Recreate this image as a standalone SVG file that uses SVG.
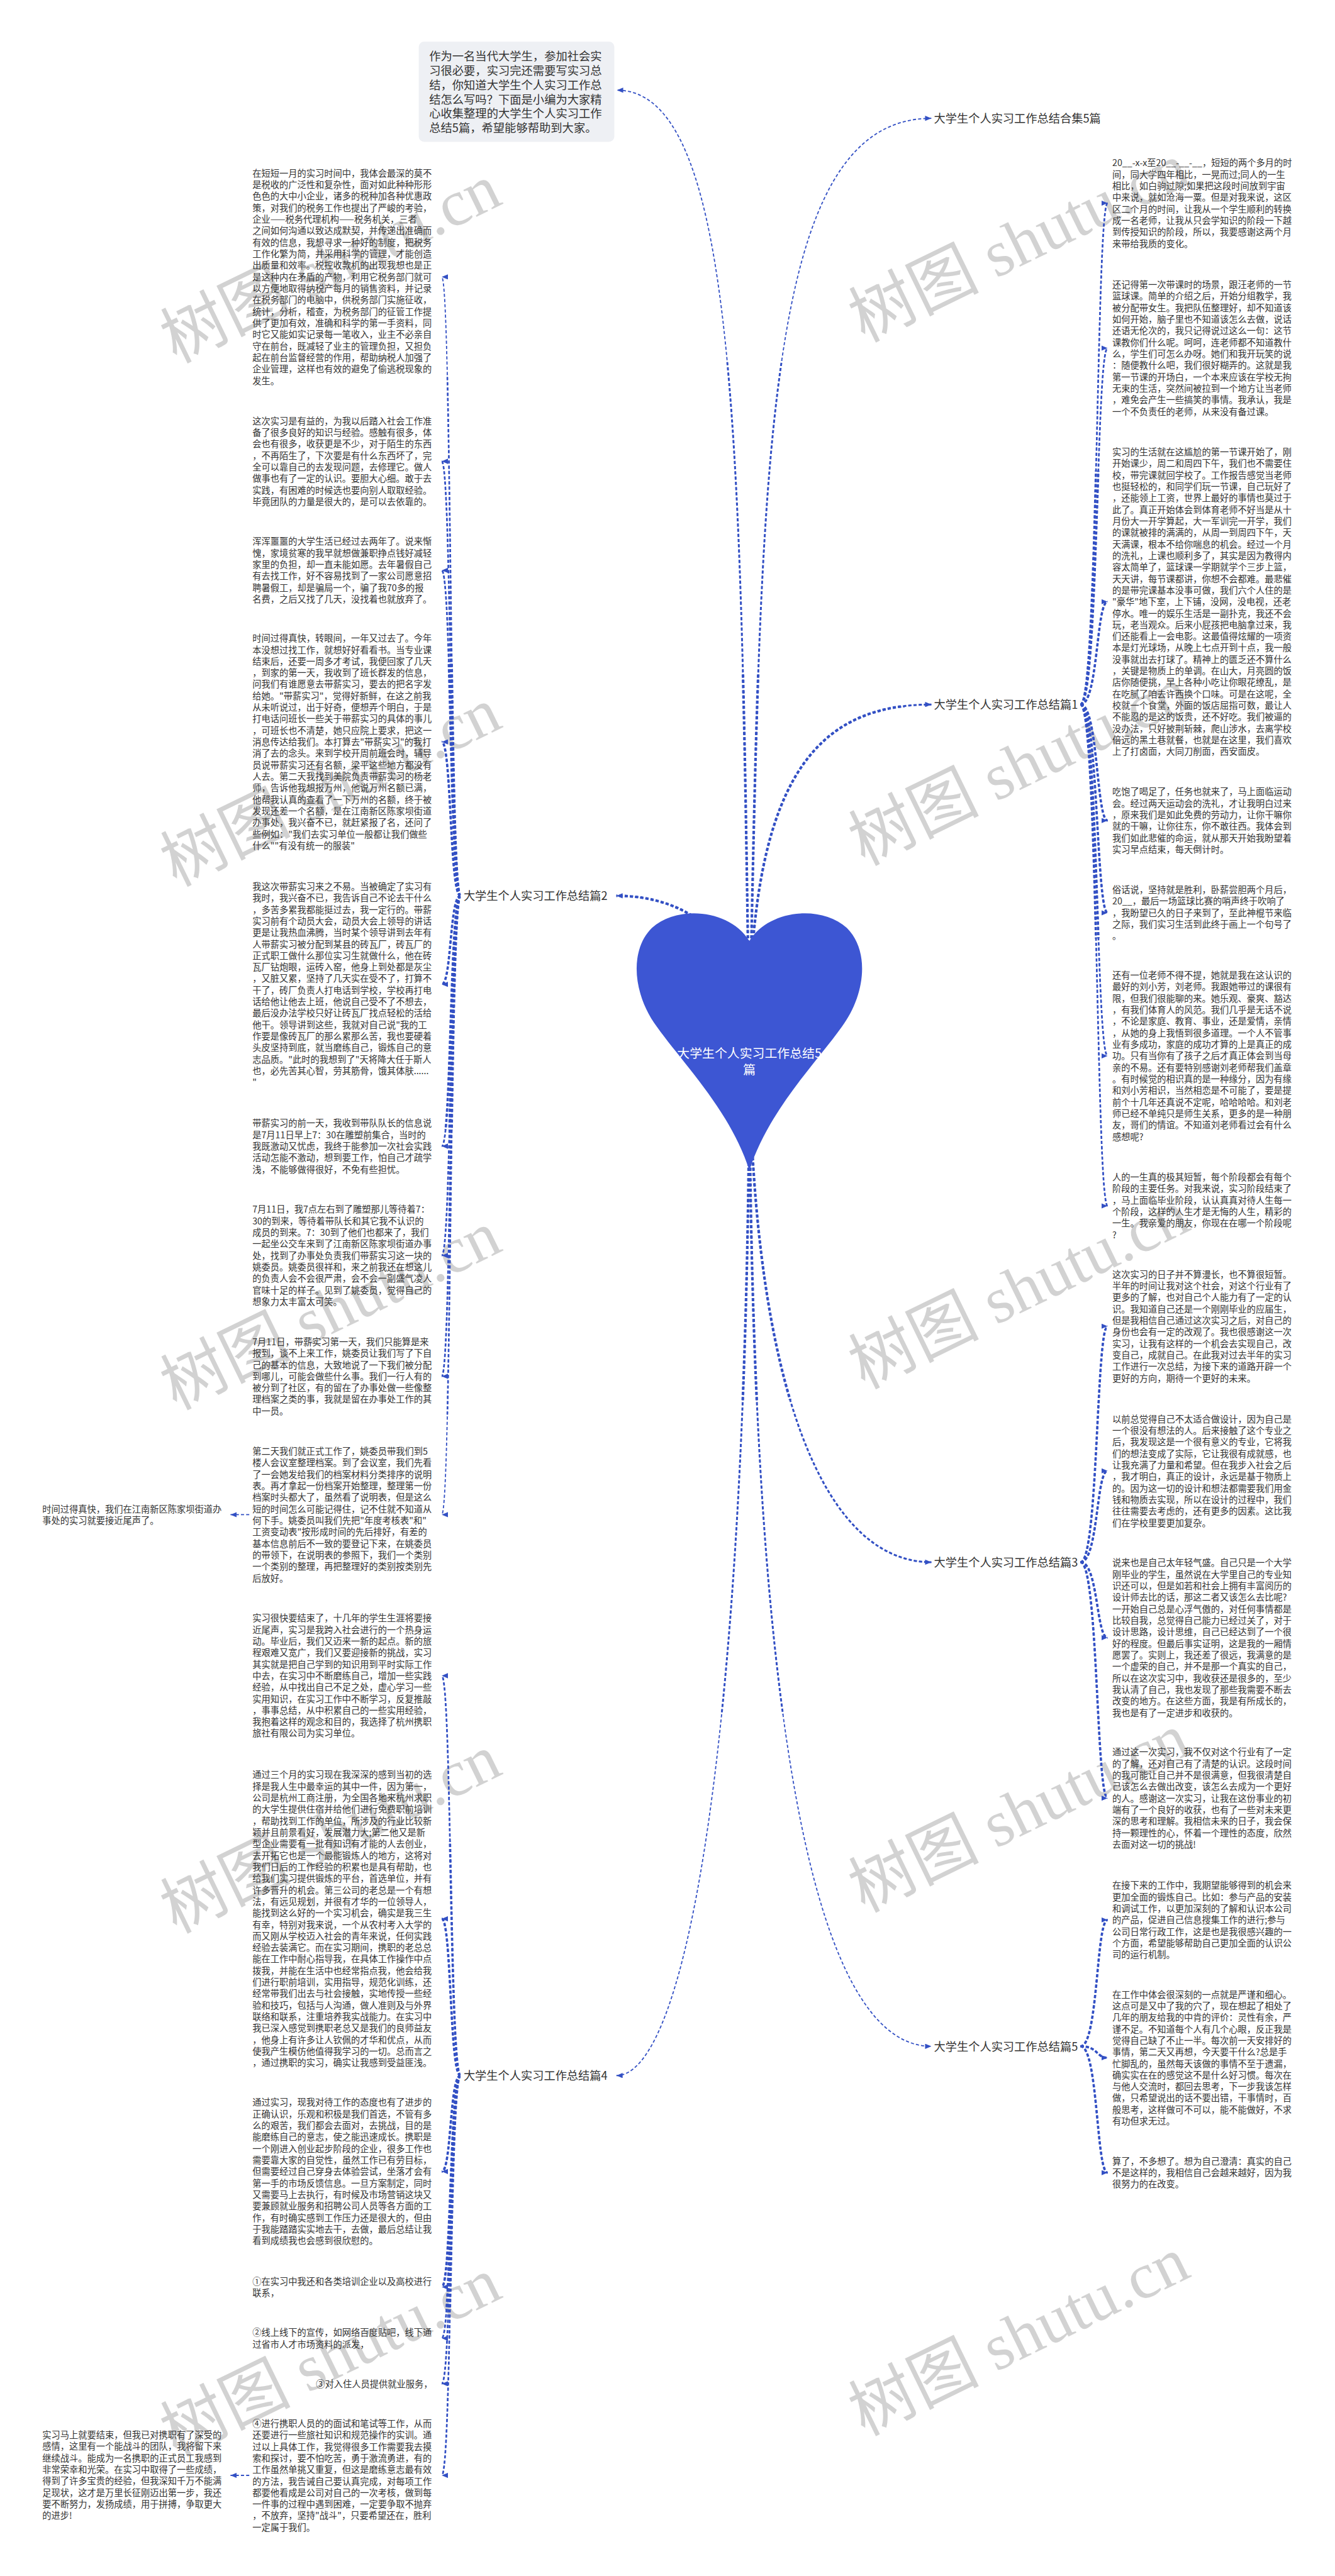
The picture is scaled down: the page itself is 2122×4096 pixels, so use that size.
<svg xmlns="http://www.w3.org/2000/svg" width="2122" height="4096" viewBox="0 0 2122 4096">
<style>
.t{font-family:"Noto Sans CJK SC","Noto Sans",sans-serif;font-size:17.2px;fill:#333}
.n{font-family:"Noto Sans CJK SC","Noto Sans",sans-serif;font-size:22.1px;fill:#333}
.b{font-family:"Noto Sans CJK SC","Noto Sans",sans-serif;font-size:22px;fill:#333}
.h{font-family:"Noto Sans CJK SC","Noto Sans",sans-serif;font-size:24px;fill:#fff;text-anchor:middle}
.wm{font-family:"Liberation Serif","Noto Sans CJK SC",serif;font-size:125px;fill:#d2d2d2;text-anchor:middle}
</style>
<defs>
<marker id="ah" viewBox="0 0 12 10" refX="12" refY="5" markerWidth="12" markerHeight="10" orient="auto" markerUnits="userSpaceOnUse"><path d="M0,0 L12,5 L0,10 z" fill="#3350c4"/></marker>
<clipPath id="cm1" clipPathUnits="userSpaceOnUse"><circle cx="1437" cy="1990" r="1300"/></clipPath>
<clipPath id="cm2" clipPathUnits="userSpaceOnUse"><circle cx="1437" cy="1990" r="700"/></clipPath>
<clipPath id="ck1" clipPathUnits="userSpaceOnUse"><circle cx="883" cy="1718.4" r="1000"/><circle cx="883" cy="3981.5" r="1000"/><circle cx="2072" cy="1351.5" r="1000"/><circle cx="2072" cy="2996.7" r="1000"/><circle cx="2072" cy="3925.4" r="1000"/></clipPath>
<clipPath id="ck2" clipPathUnits="userSpaceOnUse"><circle cx="883" cy="1718.4" r="450"/><circle cx="883" cy="3981.5" r="450"/><circle cx="2072" cy="1351.5" r="450"/><circle cx="2072" cy="2996.7" r="450"/><circle cx="2072" cy="3925.4" r="450"/></clipPath>
<path id="m1" d="M1437,1990 C1420,900 1420,173 1183,173"/>
<path id="m2" d="M1437,1990 C1460,900 1460,227 1786,227"/>
<path id="m3" d="M1437,1990 C1437,1500 1560,1351.5 1786,1351.5"/>
<path id="m4" d="M1437,1990 C1437,2600 1560,2996.7 1786,2996.7"/>
<path id="m5" d="M1437,1990 C1437,3300 1560,3925.4 1786,3925.4"/>
<path id="m6" d="M1437,1990 C1437,1800 1320,1718.4 1182,1718.4"/>
<path id="m7" d="M1437,1990 C1437,3300 1320,3981.5 1182,3981.5"/>
<path id="a1" d="M883,1718.4 C862,1718.4 866,531.2 847,531.2"/>
<path id="a2" d="M883,1718.4 C862,1718.4 866,884.9 847,884.9"/>
<path id="a3" d="M883,1718.4 C862,1718.4 866,1094.1 847,1094.1"/>
<path id="a4" d="M883,1718.4 C862,1718.4 866,1423.2 847,1423.2"/>
<path id="a5" d="M883,1718.4 C862,1718.4 866,1888.3 847,1888.3"/>
<path id="a6" d="M883,1718.4 C862,1718.4 866,2198.7 847,2198.7"/>
<path id="a7" d="M883,1718.4 C862,1718.4 866,2408.4 847,2408.4"/>
<path id="a8" d="M883,1718.4 C862,1718.4 866,2640.2 847,2640.2"/>
<path id="a9" d="M883,1718.4 C862,1718.4 866,2905.6 847,2905.6"/>
<path id="b1" d="M883,3981.5 C862,3981.5 866,3214.5 847,3214.5"/>
<path id="b2" d="M883,3981.5 C862,3981.5 866,3680.8 847,3680.8"/>
<path id="b3" d="M883,3981.5 C862,3981.5 866,4165.6 847,4165.6"/>
<path id="b4" d="M883,3981.5 C862,3981.5 866,4387 847,4387"/>
<path id="b5" d="M883,3981.5 C862,3981.5 866,4485.5 847,4485.5"/>
<path id="b6" d="M883,3981.5 C862,3981.5 866,4572.7 847,4572.7"/>
<path id="b7" d="M883,3981.5 C862,3981.5 866,4748.5 847,4748.5"/>
<path id="g1" d="M478,2905.6 L442,2905.6"/>
<path id="g2" d="M478,4748.5 L442,4748.5"/>
<path id="r1" d="M2072,1351.5 C2106,1351.5 2102,389.8 2124,389.8"/>
<path id="r2" d="M2072,1351.5 C2106,1351.5 2102,667.8 2124,667.8"/>
<path id="r3" d="M2072,1351.5 C2106,1351.5 2102,1154.3 2124,1154.3"/>
<path id="r4" d="M2072,1351.5 C2106,1351.5 2102,1574 2124,1574"/>
<path id="r5" d="M2072,1351.5 C2106,1351.5 2102,1751 2124,1751"/>
<path id="r6" d="M2072,1351.5 C2106,1351.5 2102,2025.5 2124,2025.5"/>
<path id="r7" d="M2072,1351.5 C2106,1351.5 2102,2313.2 2124,2313.2"/>
<path id="s1" d="M2072,2996.7 C2106,2996.7 2102,2544 2124,2544"/>
<path id="s2" d="M2072,2996.7 C2106,2996.7 2102,2821.5 2124,2821.5"/>
<path id="s3" d="M2072,2996.7 C2106,2996.7 2102,3141.6 2124,3141.6"/>
<path id="s4" d="M2072,2996.7 C2106,2996.7 2102,3449.4 2124,3449.4"/>
<path id="u1" d="M2072,3925.4 C2106,3925.4 2102,3683 2124,3683"/>
<path id="u2" d="M2072,3925.4 C2106,3925.4 2102,3947.4 2124,3947.4"/>
<path id="u3" d="M2072,3925.4 C2106,3925.4 2102,4167.8 2124,4167.8"/>
</defs>
<g transform="scale(0.8289)">
<g id="watermarks">
<text class="wm" transform="translate(633,504) rotate(-26)" y="44">树图 shutu.cn</text>
<text class="wm" transform="translate(633,1508) rotate(-26)" y="44">树图 shutu.cn</text>
<text class="wm" transform="translate(633,2512) rotate(-26)" y="44">树图 shutu.cn</text>
<text class="wm" transform="translate(633,3516) rotate(-26)" y="44">树图 shutu.cn</text>
<text class="wm" transform="translate(633,4520) rotate(-26)" y="44">树图 shutu.cn</text>
<text class="wm" transform="translate(1953,464) rotate(-26)" y="44">树图 shutu.cn</text>
<text class="wm" transform="translate(1953,1468) rotate(-26)" y="44">树图 shutu.cn</text>
<text class="wm" transform="translate(1953,2472) rotate(-26)" y="44">树图 shutu.cn</text>
<text class="wm" transform="translate(1953,3476) rotate(-26)" y="44">树图 shutu.cn</text>
<text class="wm" transform="translate(1953,4480) rotate(-26)" y="44">树图 shutu.cn</text>
</g>
<g id="connectors" fill="none" stroke="#3350c4" stroke-dasharray="6 4">
<g stroke-width="2.2" marker-end="url(#ah)">
<use href="#m1"/><use href="#m2"/><use href="#m3"/><use href="#m4"/><use href="#m5"/><use href="#m6"/><use href="#m7"/>
<use href="#a1"/><use href="#a2"/><use href="#a3"/><use href="#a4"/><use href="#a5"/><use href="#a6"/><use href="#a7"/><use href="#a8"/><use href="#a9"/>
<use href="#b1"/><use href="#b2"/><use href="#b3"/><use href="#b4"/><use href="#b5"/><use href="#b6"/><use href="#b7"/>
<use href="#g1"/><use href="#g2"/>
<use href="#r1"/><use href="#r2"/><use href="#r3"/><use href="#r4"/><use href="#r5"/><use href="#r6"/><use href="#r7"/>
<use href="#s1"/><use href="#s2"/><use href="#s3"/><use href="#s4"/>
<use href="#u1"/><use href="#u2"/><use href="#u3"/>
</g>
<g stroke-width="3.6" clip-path="url(#cm1)">
<use href="#m1"/><use href="#m2"/><use href="#m3"/><use href="#m4"/><use href="#m5"/><use href="#m6"/><use href="#m7"/>
</g>
<g stroke-width="5" clip-path="url(#cm2)">
<use href="#m1"/><use href="#m2"/><use href="#m3"/><use href="#m4"/><use href="#m5"/><use href="#m6"/><use href="#m7"/>
</g>
<g stroke-width="3.2" clip-path="url(#ck1)">
<use href="#a1"/><use href="#a2"/><use href="#a3"/><use href="#a4"/><use href="#a5"/><use href="#a6"/><use href="#a7"/><use href="#a8"/><use href="#a9"/>
<use href="#b1"/><use href="#b2"/><use href="#b3"/><use href="#b4"/><use href="#b5"/><use href="#b6"/><use href="#b7"/>
<use href="#r1"/><use href="#r2"/><use href="#r3"/><use href="#r4"/><use href="#r5"/><use href="#r6"/><use href="#r7"/>
<use href="#s1"/><use href="#s2"/><use href="#s3"/><use href="#s4"/>
<use href="#u1"/><use href="#u2"/><use href="#u3"/>
</g>
<g stroke-width="4.4" clip-path="url(#ck2)">
<use href="#a1"/><use href="#a2"/><use href="#a3"/><use href="#a4"/><use href="#a5"/><use href="#a6"/><use href="#a7"/><use href="#a8"/><use href="#a9"/>
<use href="#b1"/><use href="#b2"/><use href="#b3"/><use href="#b4"/><use href="#b5"/><use href="#b6"/><use href="#b7"/>
<use href="#r1"/><use href="#r2"/><use href="#r3"/><use href="#r4"/><use href="#r5"/><use href="#r6"/><use href="#r7"/>
<use href="#s1"/><use href="#s2"/><use href="#s3"/><use href="#s4"/>
<use href="#u1"/><use href="#u2"/><use href="#u3"/>
</g>
</g>
<g id="center">
<path d="M1437,1805 C1400,1745 1300,1735 1250,1780 C1205,1825 1215,1910 1260,1970 C1310,2040 1400,2130 1437,2245 C1474,2130 1564,2040 1614,1970 C1659,1910 1669,1825 1624,1780 C1574,1735 1474,1745 1437,1805 Z" fill="#3d56d3"/>
<text class="h" x="1437" y="2029">大学生个人实习工作总结5<tspan x="1437" dy="32">篇</tspan></text>
</g>
<g id="intro">
<rect x="803" y="80" width="375" height="192" rx="10" fill="#eef0f4"/>
<text class="n" x="823" y="115.4"><tspan x="823">作为一名当代大学生，参加社会实</tspan><tspan x="823" dy="27.7">习很必要，实习完还需要写实习总</tspan><tspan x="823" dy="27.7">结，你知道大学生个人实习工作总</tspan><tspan x="823" dy="27.7">结怎么写吗？下面是小编为大家精</tspan><tspan x="823" dy="27.7">心收集整理的大学生个人实习工作</tspan><tspan x="823" dy="27.7">总结5篇，希望能够帮助到大家。</tspan></text>
</g>
<g id="branch-heji"><text class="b" x="1791" y="235.4">大学生个人实习工作总结合集5篇</text></g>
<g id="branch-1"><text class="b" x="1791" y="1359.9">大学生个人实习工作总结篇1</text></g>
<g id="branch-2"><text class="b" x="889" y="1726.8">大学生个人实习工作总结篇2</text></g>
<g id="branch-3"><text class="b" x="1791" y="3005.1">大学生个人实习工作总结篇3</text></g>
<g id="branch-4"><text class="b" x="889" y="3989.9">大学生个人实习工作总结篇4</text></g>
<g id="branch-5"><text class="b" x="1791" y="3933.8">大学生个人实习工作总结篇5</text></g>

<g id="L1"><text class="t" x="484" y="338.8"><tspan x="484">在短短一月的实习时间中，我体会最深的莫不</tspan><tspan x="484" dy="22.1">是税收的广泛性和复杂性，面对如此种种形形</tspan><tspan x="484" dy="22.1">色色的大中小企业，诸多的税种加各种优惠政</tspan><tspan x="484" dy="22.1">策，对我们的税务工作也提出了严峻的考验，</tspan><tspan x="484" dy="22.1">企业——税务代理机构——税务机关，三者</tspan><tspan x="484" dy="22.1">之间如何沟通以致达成默契，并传递出准确而</tspan><tspan x="484" dy="22.1">有效的信息，我想寻求一种好的制度，把税务</tspan><tspan x="484" dy="22.1">工作化繁为简，并采用科学的管理，才能创造</tspan><tspan x="484" dy="22.1">出质量和效率。税控收款机的出现我想也是正</tspan><tspan x="484" dy="22.1">是这种内在矛盾的产物，利用它税务部门就可</tspan><tspan x="484" dy="22.1">以方便地取得纳税产每月的销售资料，并记录</tspan><tspan x="484" dy="22.1">在税务部门的电脑中，供税务部门实施征收，</tspan><tspan x="484" dy="22.1">统计，分析，稽查，为税务部门的征管工作提</tspan><tspan x="484" dy="22.1">供了更加有效，准确和科学的第一手资料，同</tspan><tspan x="484" dy="22.1">时它又能如实记录每一笔收入，业主不必亲自</tspan><tspan x="484" dy="22.1">守在前台，既减轻了业主的管理负担，又担负</tspan><tspan x="484" dy="22.1">起在前台监督经营的作用，帮助纳税人加强了</tspan><tspan x="484" dy="22.1">企业管理，这样也有效的避免了偷逃税现象的</tspan><tspan x="484" dy="22.1">发生。</tspan></text></g>
<g id="L2"><text class="t" x="484" y="814"><tspan x="484">这次实习是有益的，为我以后踏入社会工作准</tspan><tspan x="484" dy="22.1">备了很多良好的知识与经验。感触有很多，体</tspan><tspan x="484" dy="22.1">会也有很多，收获更是不少，对于陌生的东西</tspan><tspan x="484" dy="22.1">，不再陌生了，下次要是有什么东西坏了，完</tspan><tspan x="484" dy="22.1">全可以靠自己的去发现问题，去修理它。做人</tspan><tspan x="484" dy="22.1">做事也有了一定的认识。要胆大心细。敢于去</tspan><tspan x="484" dy="22.1">实践，有困难的时候选也要向别人取取经验。</tspan><tspan x="484" dy="22.1">毕竟团队的力量是很大的，是可以去依靠的。</tspan></text></g>
<g id="L3"><text class="t" x="484" y="1045.3"><tspan x="484">浑浑噩噩的大学生活已经过去两年了。说来惭</tspan><tspan x="484" dy="22.1">愧，家境贫寒的我早就想做兼职挣点钱好减轻</tspan><tspan x="484" dy="22.1">家里的负担，却一直未能如愿。去年暑假自己</tspan><tspan x="484" dy="22.1">有去找工作，好不容易找到了一家公司愿意招</tspan><tspan x="484" dy="22.1">聘暑假工，却是骗局一个，骗了我70多的报</tspan><tspan x="484" dy="22.1">名费，之后又找了几天，没找着也就放弃了。</tspan></text></g>
<g id="L4"><text class="t" x="484" y="1230.8"><tspan x="484">时间过得真快，转眼间，一年又过去了。今年</tspan><tspan x="484" dy="22.1">本没想过找工作，就想好好看看书。当专业课</tspan><tspan x="484" dy="22.1">结束后，还要一周多才考试，我便回家了几天</tspan><tspan x="484" dy="22.1">，到家的第一天，我收到了班长群发的信息，</tspan><tspan x="484" dy="22.1">问我们有谁愿意去带薪实习，要去的把名字发</tspan><tspan x="484" dy="22.1">给她。"带薪实习"，觉得好新鲜，在这之前我</tspan><tspan x="484" dy="22.1">从未听说过，出于好奇，便想弄个明白，于是</tspan><tspan x="484" dy="22.1">打电话问班长一些关于带薪实习的具体的事儿</tspan><tspan x="484" dy="22.1">，可班长也不清楚，她只应院上要求，把这一</tspan><tspan x="484" dy="22.1">消息传达给我们。本打算去"带薪实习"的我打</tspan><tspan x="484" dy="22.1">消了去的念头。来到学校开周前班会时，辅导</tspan><tspan x="484" dy="22.1">员说带薪实习还有名额，梁平这些地方都没有</tspan><tspan x="484" dy="22.1">人去。第二天我找到美院负责带薪实习的杨老</tspan><tspan x="484" dy="22.1">师，告诉他我想报万州，他说万州名额已满，</tspan><tspan x="484" dy="22.1">他帮我认真的查看了一下万州的名额，终于被</tspan><tspan x="484" dy="22.1">发现还差一个名额，是在江南新区陈家坝街道</tspan><tspan x="484" dy="22.1">办事处，我兴奋不已，就赶紧报了名，还问了</tspan><tspan x="484" dy="22.1">些例如："我们去实习单位一般都让我们做些</tspan><tspan x="484" dy="22.1">什么""有没有统一的服装"</tspan></text></g>
<g id="L5"><text class="t" x="484" y="1707"><tspan x="484">我这次带薪实习来之不易。当被确定了实习有</tspan><tspan x="484" dy="22.1">我时，我兴奋不已，我告诉自己不论去干什么</tspan><tspan x="484" dy="22.1">，多苦多累我都能挺过去，我一定行的。带薪</tspan><tspan x="484" dy="22.1">实习前有个动员大会，动员大会上领导的讲话</tspan><tspan x="484" dy="22.1">更是让我热血沸腾，当时某个领导讲到去年有</tspan><tspan x="484" dy="22.1">人带薪实习被分配到某县的砖瓦厂，砖瓦厂的</tspan><tspan x="484" dy="22.1">正式职工做什么那位实习生就做什么，他在砖</tspan><tspan x="484" dy="22.1">瓦厂钻炮眼，运砖入窑，他身上到处都是灰尘</tspan><tspan x="484" dy="22.1">，又脏又累，坚持了几天实在受不了，打算不</tspan><tspan x="484" dy="22.1">干了，砖厂负责人打电话到学校，学校再打电</tspan><tspan x="484" dy="22.1">话给他让他去上班，他说自己受不了不想去，</tspan><tspan x="484" dy="22.1">最后没办法学校只好让砖瓦厂找点轻松的活给</tspan><tspan x="484" dy="22.1">他干。领导讲到这些，我就对自己说"我的工</tspan><tspan x="484" dy="22.1">作要是像砖瓦厂的那么累那么苦，我也要硬着</tspan><tspan x="484" dy="22.1">头皮坚持到底，就当磨练自己，锻炼自己的意</tspan><tspan x="484" dy="22.1">志品质。"此时的我想到了"天将降大任于斯人</tspan><tspan x="484" dy="22.1">也，必先苦其心智，劳其筋骨，饿其体肤......</tspan><tspan x="484" dy="22.1">"</tspan></text></g>
<g id="L6"><text class="t" x="484" y="2161"><tspan x="484">带薪实习的前一天，我收到带队队长的信息说</tspan><tspan x="484" dy="22.1">是7月11日早上7：30在雕塑前集合，当时的</tspan><tspan x="484" dy="22.1">我既激动又忧虑，我终于能参加一次社会实践</tspan><tspan x="484" dy="22.1">活动怎能不激动，想到要工作，怕自己才疏学</tspan><tspan x="484" dy="22.1">浅，不能够做得很好，不免有些担忧。</tspan></text></g>
<g id="L7"><text class="t" x="484" y="2326.5"><tspan x="484">7月11日，我7点左右到了雕塑那儿等待着7：</tspan><tspan x="484" dy="22.1">30的到来，等待着带队长和其它我不认识的</tspan><tspan x="484" dy="22.1">成员的到来。7：30到了他们也都来了，我们</tspan><tspan x="484" dy="22.1">一起坐公交车来到了江南新区陈家坝街道办事</tspan><tspan x="484" dy="22.1">处，找到了办事处负责我们带薪实习这一块的</tspan><tspan x="484" dy="22.1">姚委员。姚委员很祥和，来之前我还在想这儿</tspan><tspan x="484" dy="22.1">的负责人会不会很严肃，会不会一副盛气凌人</tspan><tspan x="484" dy="22.1">官味十足的样子。见到了姚委员，觉得自己的</tspan><tspan x="484" dy="22.1">想象力太丰富太可笑。</tspan></text></g>
<g id="L8"><text class="t" x="484" y="2580.4"><tspan x="484">7月11日，带薪实习第一天，我们只能算是来</tspan><tspan x="484" dy="22.1">报到，谈不上来工作，姚委员让我们写了下自</tspan><tspan x="484" dy="22.1">己的基本的信息，大致地说了一下我们被分配</tspan><tspan x="484" dy="22.1">到哪儿，可能会做些什么事。我们一行人有的</tspan><tspan x="484" dy="22.1">被分到了社区，有的留在了办事处做一些像整</tspan><tspan x="484" dy="22.1">理档案之类的事，我就是留在办事处工作的其</tspan><tspan x="484" dy="22.1">中一员。</tspan></text></g>
<g id="L9"><text class="t" x="484" y="2790.5"><tspan x="484">第二天我们就正式工作了，姚委员带我们到5</tspan><tspan x="484" dy="22.1">楼人会议室整理档案。到了会议室，我们先看</tspan><tspan x="484" dy="22.1">了一会她发给我们的档案材料分类排序的说明</tspan><tspan x="484" dy="22.1">表。再才拿起一份档案开始整理，整理第一份</tspan><tspan x="484" dy="22.1">档案时头都大了，虽然看了说明表，但是这么</tspan><tspan x="484" dy="22.1">短的时间怎么可能记得住，记不住就不知道从</tspan><tspan x="484" dy="22.1">何下手。姚委员叫我们先把"年度考核表"和"</tspan><tspan x="484" dy="22.1">工资变动表"按形成时间的先后排好，有差的</tspan><tspan x="484" dy="22.1">基本信息前后不一致的要登记下来，在姚委员</tspan><tspan x="484" dy="22.1">的带领下，在说明表的参照下，我们一个类别</tspan><tspan x="484" dy="22.1">一个类别的整理，再把整理好的类别按类别先</tspan><tspan x="484" dy="22.1">后放好。</tspan></text></g>
<g id="L9a"><text class="t" x="81" y="2901.5"><tspan x="81">时间过得真快，我们在江南新区陈家坝街道办</tspan><tspan x="81" dy="22.1">事处的实习就要接近尾声了。</tspan></text></g>
<g id="L10"><text class="t" x="484" y="3110.5"><tspan x="484">实习很快要结束了，十几年的学生生涯将要接</tspan><tspan x="484" dy="22.1">近尾声，实习是我跨入社会进行的一个热身运</tspan><tspan x="484" dy="22.1">动。毕业后，我们又迈来一新的起点。新的旅</tspan><tspan x="484" dy="22.1">程艰难又宽广，我们又要迎接新的挑战，实习</tspan><tspan x="484" dy="22.1">其实就是把自己学到的知识用到平时实际工作</tspan><tspan x="484" dy="22.1">中去，在实习中不断磨练自己，增加一些实践</tspan><tspan x="484" dy="22.1">经验，从中找出自己不足之处，虚心学习一些</tspan><tspan x="484" dy="22.1">实用知识，在实习工作中不断学习，反复推敲</tspan><tspan x="484" dy="22.1">，事事总结，从中积累自己的一些实用经验，</tspan><tspan x="484" dy="22.1">我抱着这样的观念和目的，我选择了杭州携职</tspan><tspan x="484" dy="22.1">旅社有限公司为实习单位。</tspan></text></g>
<g id="L11"><text class="t" x="484" y="3411"><tspan x="484">通过三个月的实习现在我深深的感到当初的选</tspan><tspan x="484" dy="22.1">择是我人生中最幸运的其中一件，因为第一，</tspan><tspan x="484" dy="22.1">公司是杭州工商注册，为全国各地来杭州求职</tspan><tspan x="484" dy="22.1">的大学生提供住宿并给他们进行免费职前培训</tspan><tspan x="484" dy="22.1">，帮助找到工作的单位，所涉及的行业比较新</tspan><tspan x="484" dy="22.1">颖并且前景看好，发展潜力大;第二他又是新</tspan><tspan x="484" dy="22.1">型企业需要有一批有知识有才能的人去创业，</tspan><tspan x="484" dy="22.1">去开拓它也是一个最能锻炼人的地方，这将对</tspan><tspan x="484" dy="22.1">我们日后的工作经验的积累也是具有帮助，也</tspan><tspan x="484" dy="22.1">给我们实习提供锻炼的平台，首选单位，并有</tspan><tspan x="484" dy="22.1">许多晋升的机会。第三公司的老总是一个有想</tspan><tspan x="484" dy="22.1">法，有远见规划，并很有才华的一位领导人，</tspan><tspan x="484" dy="22.1">能找到这么好的一个实习机会，确实是我三生</tspan><tspan x="484" dy="22.1">有幸，特别对我来说，一个从农村考入大学的</tspan><tspan x="484" dy="22.1">而又刚从学校迈入社会的青年来说，任何实践</tspan><tspan x="484" dy="22.1">经验去装满它。而在实习期间，携职的老总总</tspan><tspan x="484" dy="22.1">能在工作中耐心指导我，在具体工作操作中点</tspan><tspan x="484" dy="22.1">拨我，并能在生活中也经常指点我，他会给我</tspan><tspan x="484" dy="22.1">们进行职前培训，实用指导，规范化训练，还</tspan><tspan x="484" dy="22.1">经常带我们出去与社会接触，实地传授一些经</tspan><tspan x="484" dy="22.1">验和技巧，包括与人沟通，做人准则及与外界</tspan><tspan x="484" dy="22.1">联络和联系，注重培养我实战能力。在实习中</tspan><tspan x="484" dy="22.1">我已深入感觉到携职老总又是我们的良师益友</tspan><tspan x="484" dy="22.1">，他身上有许多让人钦佩的才华和优点，从而</tspan><tspan x="484" dy="22.1">使我产生模仿他值得我学习的一切。总而言之</tspan><tspan x="484" dy="22.1">，通过携职的实习，确实让我感到受益匪浅。</tspan></text></g>
<g id="L12"><text class="t" x="484" y="4039.5"><tspan x="484">通过实习，现我对待工作的态度也有了进步的</tspan><tspan x="484" dy="22.1">正确认识，乐观和积极是我们首选，不管有多</tspan><tspan x="484" dy="22.1">么的艰苦，我们都会去面对，去挑战，目的是</tspan><tspan x="484" dy="22.1">能磨练自己的意志，使之能迅速成长。携职是</tspan><tspan x="484" dy="22.1">一个刚进入创业起步阶段的企业，很多工作也</tspan><tspan x="484" dy="22.1">需要靠大家的自觉性，虽然工作已有劳目标，</tspan><tspan x="484" dy="22.1">但需要经过自己穿身去体验尝试，坐落才会有</tspan><tspan x="484" dy="22.1">第一手的市场反馈信息。一旦方案制定，同时</tspan><tspan x="484" dy="22.1">又需要马上去执行，有时候及市场营销这块又</tspan><tspan x="484" dy="22.1">要兼顾就业服务和招聘公司人员等各方面的工</tspan><tspan x="484" dy="22.1">作，有时确实感到工作压力还是很大的，但由</tspan><tspan x="484" dy="22.1">于我能踏踏实实地去干，去做，最后总结让我</tspan><tspan x="484" dy="22.1">看到成绩我也会感到很欣慰的。</tspan></text></g>
<g id="L13"><text class="t" x="484" y="4382.5"><tspan x="484">①在实习中我还和各类培训企业以及高校进行</tspan><tspan x="484" dy="22.1">联系，</tspan></text></g>
<g id="L14"><text class="t" x="484" y="4481"><tspan x="484">②线上线下的宣传，如网络百度贴吧，线下通</tspan><tspan x="484" dy="22.1">过省市人才市场资料的派发，</tspan></text></g>
<g id="L15"><text class="t" x="606" y="4579.2">③对入住人员提供就业服务，</text></g>
<g id="L16"><text class="t" x="484" y="4655.5"><tspan x="484">④进行携职人员的的面试和笔试等工作，从而</tspan><tspan x="484" dy="22.1">还要进行一些旅社知识和规范操作的实训。通</tspan><tspan x="484" dy="22.1">过以上具体工作，我觉得很多工作需要我去摸</tspan><tspan x="484" dy="22.1">索和探讨，要不怕吃苦，勇于激流勇进，有的</tspan><tspan x="484" dy="22.1">工作虽然单挑又重复，但这是磨练意志最有效</tspan><tspan x="484" dy="22.1">的方法，我告诫自己要认真完成，对每项工作</tspan><tspan x="484" dy="22.1">都要他看成是公司对自己的一次考核，做到每</tspan><tspan x="484" dy="22.1">一件事的过程中遇到困难，一定要争取不抛弃</tspan><tspan x="484" dy="22.1">，不放弃，坚持"战斗"，只要希望还在，胜利</tspan><tspan x="484" dy="22.1">一定属于我们。</tspan></text></g>
<g id="L16a"><text class="t" x="81" y="4677.5"><tspan x="81">实习马上就要结束，但我已对携职有了深受的</tspan><tspan x="81" dy="22.1">感情，这里有一个能战斗的团队，我将留下来</tspan><tspan x="81" dy="22.1">继续战斗。能成为一名携职的正式员工我感到</tspan><tspan x="81" dy="22.1">非常荣幸和光荣。在实习中取得了一些成绩，</tspan><tspan x="81" dy="22.1">得到了许多宝贵的经验，但我深知千万不能满</tspan><tspan x="81" dy="22.1">足现状，这才是万里长征刚迈出第一步，我还</tspan><tspan x="81" dy="22.1">要不断努力，发扬成绩，用于拼搏，争取更大</tspan><tspan x="81" dy="22.1">的进步!</tspan></text></g>

<g id="R1"><text class="t" x="2133" y="319"><tspan x="2133">20__-x-x至20__-__-__，短短的两个多月的时</tspan><tspan x="2133" dy="22.1">间，同大学四年相比，一晃而过;同人的一生</tspan><tspan x="2133" dy="22.1">相比，如白驹过隙;如果把这段时间放到宇宙</tspan><tspan x="2133" dy="22.1">中来说，就如沧海一粟。但是对我来说，这区</tspan><tspan x="2133" dy="22.1">区二个月的时间，让我从一个学生顺利的转换</tspan><tspan x="2133" dy="22.1">成一名老师，让我从只会学知识的阶段一下越</tspan><tspan x="2133" dy="22.1">到传授知识的阶段，所以，我要感谢这两个月</tspan><tspan x="2133" dy="22.1">来带给我质的变化。</tspan></text></g>
<g id="R2"><text class="t" x="2133" y="552.7"><tspan x="2133">还记得第一次带课时的场景，跟汪老师的一节</tspan><tspan x="2133" dy="22.1">篮球课。简单的介绍之后，开始分组教学，我</tspan><tspan x="2133" dy="22.1">被分配带女生。我把队伍整理好，却不知道该</tspan><tspan x="2133" dy="22.1">如何开始，脑子里也不知道该怎么去做，说话</tspan><tspan x="2133" dy="22.1">还语无伦次的，我只记得说过这么一句：这节</tspan><tspan x="2133" dy="22.1">课教你们什么呢。呵呵，连老师都不知道教什</tspan><tspan x="2133" dy="22.1">么，学生们可怎么办呀。她们和我开玩笑的说</tspan><tspan x="2133" dy="22.1">：随便教什么吧，我们很好糊弄的。这就是我</tspan><tspan x="2133" dy="22.1">第一节课的开场白，一个本来应该在学校无拘</tspan><tspan x="2133" dy="22.1">无束的生活，突然间被拉到一个地方让当老师</tspan><tspan x="2133" dy="22.1">，难免会产生一些搞笑的事情。我承认，我是</tspan><tspan x="2133" dy="22.1">一个不负责任的老师，从来没有备过课。</tspan></text></g>
<g id="R3"><text class="t" x="2133" y="873.5"><tspan x="2133">实习的生活就在这尴尬的第一节课开始了，刚</tspan><tspan x="2133" dy="22.1">开始课少，周二和周四下午，我们也不需要住</tspan><tspan x="2133" dy="22.1">校，带完课就回学校了。工作报告感觉当老师</tspan><tspan x="2133" dy="22.1">也挺轻松的，和同学们玩一节课，自己玩好了</tspan><tspan x="2133" dy="22.1">，还能领上工资，世界上最好的事情也莫过于</tspan><tspan x="2133" dy="22.1">此了。真正开始体会到体育老师不好当是从十</tspan><tspan x="2133" dy="22.1">月份大一开学算起，大一军训完一开学，我们</tspan><tspan x="2133" dy="22.1">的课就被排的满满的，从周一到周四下午，天</tspan><tspan x="2133" dy="22.1">天满课，根本不给你喘息的机会。经过一个月</tspan><tspan x="2133" dy="22.1">的洗礼，上课也顺利多了，其实是因为教得内</tspan><tspan x="2133" dy="22.1">容太简单了，篮球课一学期就学个三步上篮，</tspan><tspan x="2133" dy="22.1">天天讲，每节课都讲，你想不会都难。最悲催</tspan><tspan x="2133" dy="22.1">的是带完课基本没事可做，我们六个人住的是</tspan><tspan x="2133" dy="22.1">"豪华"地下室，上下铺，没网，没电视，还老</tspan><tspan x="2133" dy="22.1">停水。唯一的娱乐生活是一副扑克，我还不会</tspan><tspan x="2133" dy="22.1">玩，老当观众。后来小屁孩把电脑拿过来，我</tspan><tspan x="2133" dy="22.1">们还能看上一会电影。这最值得炫耀的一项资</tspan><tspan x="2133" dy="22.1">本是灯光球场，从晚上七点开到十点，我一般</tspan><tspan x="2133" dy="22.1">没事就出去打球了。精神上的匮乏还不算什么</tspan><tspan x="2133" dy="22.1">，关键是物质上的单调。在山大，月亮圆的饭</tspan><tspan x="2133" dy="22.1">店你随便挑，早上各种小吃让你眼花缭乱，是</tspan><tspan x="2133" dy="22.1">在吃腻了咱去许西换个口味。可是在这呢，全</tspan><tspan x="2133" dy="22.1">校就一个食堂，外面的饭店屈指可数，最让人</tspan><tspan x="2133" dy="22.1">不能忍的是这的饭贵，还不好吃。我们被逼的</tspan><tspan x="2133" dy="22.1">没办法，只好披荆斩棘，爬山涉水，去离学校</tspan><tspan x="2133" dy="22.1">倍远的黑土巷就餐，也就是在这里，我们喜欢</tspan><tspan x="2133" dy="22.1">上了打卤面，大同刀削面，西安面皮。</tspan></text></g>
<g id="R4"><text class="t" x="2133" y="1525.2"><tspan x="2133">吃饱了喝足了，任务也就来了，马上面临运动</tspan><tspan x="2133" dy="22.1">会。经过两天运动会的洗礼，才让我明白过来</tspan><tspan x="2133" dy="22.1">，原来我们是如此免费的劳动力，让你干嘛你</tspan><tspan x="2133" dy="22.1">就的干嘛，让你往东，你不敢往西。我体会到</tspan><tspan x="2133" dy="22.1">我们如此悲催的命运，就从那天开始我盼望着</tspan><tspan x="2133" dy="22.1">实习早点结束，每天倒计时。</tspan></text></g>
<g id="R5"><text class="t" x="2133" y="1713.3"><tspan x="2133">俗话说，坚持就是胜利，卧薪尝胆两个月后，</tspan><tspan x="2133" dy="22.1">20__，最后一场篮球比赛的哨声终于吹响了</tspan><tspan x="2133" dy="22.1">，我盼望已久的日子来到了，至此神棍节来临</tspan><tspan x="2133" dy="22.1">之际，我们实习生活到此终于画上一个句号了</tspan><tspan x="2133" dy="22.1">。</tspan></text></g>
<g id="R6"><text class="t" x="2133" y="1877.3"><tspan x="2133">还有一位老师不得不提，她就是我在这认识的</tspan><tspan x="2133" dy="22.1">最好的刘小芳，刘老师。我跟她带过的课很有</tspan><tspan x="2133" dy="22.1">限，但我们很能聊的来。她乐观、豪爽、豁达</tspan><tspan x="2133" dy="22.1">，有我们体育人的风范。我们几乎是无话不说</tspan><tspan x="2133" dy="22.1">，不论是家庭、教育、事业，还是爱情，亲情</tspan><tspan x="2133" dy="22.1">，从她的身上我悟到很多道理。一个人不管事</tspan><tspan x="2133" dy="22.1">业有多成功，家庭的成功才算的上是真正的成</tspan><tspan x="2133" dy="22.1">功。只有当你有了孩子之后才真正体会到当母</tspan><tspan x="2133" dy="22.1">亲的不易。还有要特别感谢刘老师帮我们盖章</tspan><tspan x="2133" dy="22.1">。有时候觉的相识真的是一种缘分，因为有缘</tspan><tspan x="2133" dy="22.1">和刘小芳相识，当然相恋是不可能了，要是提</tspan><tspan x="2133" dy="22.1">前个十几年还真说不定呢，哈哈哈哈。和刘老</tspan><tspan x="2133" dy="22.1">师已经不单纯只是师生关系，更多的是一种朋</tspan><tspan x="2133" dy="22.1">友，哥们的情谊。不知道刘老师看过会有什么</tspan><tspan x="2133" dy="22.1">感想呢?</tspan></text></g>
<g id="R7"><text class="t" x="2133" y="2264.5"><tspan x="2133">人的一生真的极其短暂，每个阶段都会有每个</tspan><tspan x="2133" dy="22.1">阶段的主要任务。对我来说，实习阶段结束了</tspan><tspan x="2133" dy="22.1">，马上面临毕业阶段，认认真真对待人生每一</tspan><tspan x="2133" dy="22.1">个阶段，这样的人生才是无悔的人生，精彩的</tspan><tspan x="2133" dy="22.1">一生。我亲爱的朋友，你现在在哪一个阶段呢</tspan><tspan x="2133" dy="22.1">?</tspan></text></g>
<g id="R8"><text class="t" x="2133" y="2451"><tspan x="2133">这次实习的日子并不算漫长，也不算很短暂。</tspan><tspan x="2133" dy="22.1">半年的时间让我对这个社会，对这个行业有了</tspan><tspan x="2133" dy="22.1">更多的了解，也对自己个人能力有了一定的认</tspan><tspan x="2133" dy="22.1">识。我知道自己还是一个刚刚毕业的应届生，</tspan><tspan x="2133" dy="22.1">但是我相信自己通过这次实习之后，对自己的</tspan><tspan x="2133" dy="22.1">身份也会有一定的改观了。我也很感谢这一次</tspan><tspan x="2133" dy="22.1">实习，让我有这样的一个机会去实现自己，改</tspan><tspan x="2133" dy="22.1">变自己，成就自己。在此我对过去半年的实习</tspan><tspan x="2133" dy="22.1">工作进行一次总结，为接下来的道路开辟一个</tspan><tspan x="2133" dy="22.1">更好的方向，期待一个更好的未来。</tspan></text></g>
<g id="R9"><text class="t" x="2133" y="2728.5"><tspan x="2133">以前总觉得自己不太适合做设计，因为自己是</tspan><tspan x="2133" dy="22.1">一个很没有想法的人。后来接触了这个专业之</tspan><tspan x="2133" dy="22.1">后，我发现这是一个很有意义的专业，它将我</tspan><tspan x="2133" dy="22.1">们的想法变成了实际，它让我很有成就感，也</tspan><tspan x="2133" dy="22.1">让我充满了力量和希望。但在我步入社会之后</tspan><tspan x="2133" dy="22.1">，我才明白，真正的设计，永远是基于物质上</tspan><tspan x="2133" dy="22.1">的。因为这一切的设计和想法都需要我们用金</tspan><tspan x="2133" dy="22.1">钱和物质去实现，所以在设计的过程中，我们</tspan><tspan x="2133" dy="22.1">往往需要去考虑的，还有更多的因素。这比我</tspan><tspan x="2133" dy="22.1">们在学校里要更加复杂。</tspan></text></g>
<g id="R10"><text class="t" x="2133" y="3004.5"><tspan x="2133">说来也是自己太年轻气盛。自己只是一个大学</tspan><tspan x="2133" dy="22.1">刚毕业的学生，虽然说在大学里自己的专业知</tspan><tspan x="2133" dy="22.1">识还可以，但是如若和社会上拥有丰富阅历的</tspan><tspan x="2133" dy="22.1">设计师去比的话，那这二者又该怎么去比呢?</tspan><tspan x="2133" dy="22.1">一开始自己总是心浮气傲的，对任何事情都是</tspan><tspan x="2133" dy="22.1">比较自我，总觉得自己能力已经过关了，对于</tspan><tspan x="2133" dy="22.1">设计思路，设计思维，自己已经达到了一个很</tspan><tspan x="2133" dy="22.1">好的程度。但最后事实证明，这是我的一厢情</tspan><tspan x="2133" dy="22.1">愿罢了。实则上，我还差了很远，我满意的是</tspan><tspan x="2133" dy="22.1">一个虚荣的自己，并不是那一个真实的自己，</tspan><tspan x="2133" dy="22.1">所以在这次实习中，我收获还是很多的，至少</tspan><tspan x="2133" dy="22.1">我认清了自己，我也发现了那些我需要不断去</tspan><tspan x="2133" dy="22.1">改变的地方。在这些方面，我是有所成长的，</tspan><tspan x="2133" dy="22.1">我也是有了一定进步和收获的。</tspan></text></g>
<g id="R11"><text class="t" x="2133" y="3367.5"><tspan x="2133">通过这一次实习，我不仅对这个行业有了一定</tspan><tspan x="2133" dy="22.1">的了解，还对自己有了清楚的认识。这段时间</tspan><tspan x="2133" dy="22.1">的我可能让自己并不是很满意，但我很清楚自</tspan><tspan x="2133" dy="22.1">己该怎么去做出改变，该怎么去成为一个更好</tspan><tspan x="2133" dy="22.1">的人。感谢这一次实习，让我在这份事业的初</tspan><tspan x="2133" dy="22.1">端有了一个良好的收获，也有了一些对未来更</tspan><tspan x="2133" dy="22.1">深的思考和理解。我相信未来的日子，我会保</tspan><tspan x="2133" dy="22.1">持一颗理性的心，怀着一个理性的态度，欣然</tspan><tspan x="2133" dy="22.1">去面对这一切的挑战!</tspan></text></g>
<g id="R12"><text class="t" x="2133" y="3623.2"><tspan x="2133">在接下来的工作中，我期望能够得到的机会来</tspan><tspan x="2133" dy="22.1">更加全面的锻炼自己。比如：参与产品的安装</tspan><tspan x="2133" dy="22.1">和调试工作，以更加深刻的了解和认识本公司</tspan><tspan x="2133" dy="22.1">的产品，促进自己信息搜集工作的进行;参与</tspan><tspan x="2133" dy="22.1">公司日常行政工作，这是也是我很感兴趣的一</tspan><tspan x="2133" dy="22.1">个方面，希望能够帮助自己更加全面的认识公</tspan><tspan x="2133" dy="22.1">司的运行机制。</tspan></text></g>
<g id="R13"><text class="t" x="2133" y="3832.3"><tspan x="2133">在工作中体会很深刻的一点就是严谨和细心。</tspan><tspan x="2133" dy="22.1">这点可是又中了我的穴了，现在想起了相处了</tspan><tspan x="2133" dy="22.1">几年的朋友给我的中肯的评价：灵性有余，严</tspan><tspan x="2133" dy="22.1">谨不足。不知道每个人有几个心眼，反正我是</tspan><tspan x="2133" dy="22.1">觉得自己缺了不止一半。每次前一天安排好的</tspan><tspan x="2133" dy="22.1">事情，第二天又再想，今天要干什么?总是手</tspan><tspan x="2133" dy="22.1">忙脚乱的，虽然每天该做的事情不至于遗漏，</tspan><tspan x="2133" dy="22.1">确实实在在的感觉这不是什么好习惯。每次在</tspan><tspan x="2133" dy="22.1">与他人交流时，都回去思考，下一步我该怎样</tspan><tspan x="2133" dy="22.1">做，只希望说出的话不要出错，干事情时，百</tspan><tspan x="2133" dy="22.1">般思考，这样做可不可以，能不能做好，不求</tspan><tspan x="2133" dy="22.1">有功但求无过。</tspan></text></g>
<g id="R14"><text class="t" x="2133" y="4152.2"><tspan x="2133">算了，不多想了。想为自己澄清：真实的自己</tspan><tspan x="2133" dy="22.1">不是这样的，我相信自己会越来越好，因为我</tspan><tspan x="2133" dy="22.1">很努力的在改变。</tspan></text></g>
</g>
</svg>
